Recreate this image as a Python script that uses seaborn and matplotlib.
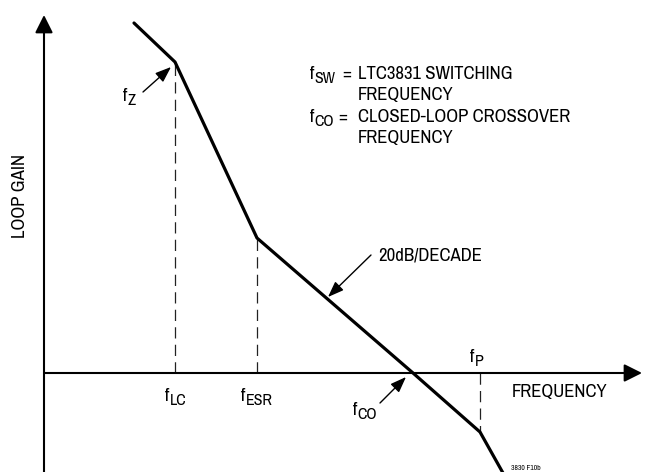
import matplotlib.pyplot as plt
import seaborn as sns

# breakpoints of the asymptotic loop gain curve (arbitrary log-freq / dB units)
freq = [90, 131, 213, 369, 436, 459]
gain = [350, 311, 135, 0, -59, -100]

# dashed marker lines: frequency, top gain
marker_freq = [131, 213, 436]
marker_top = [311, 135, -59]

sns.set_theme(style="white")
plt.rcParams["font.family"] = ["Archivo Narrow", "DejaVu Sans"]
plt.rcParams["text.color"] = "black"

fig = plt.figure(figsize=(6.49, 4.72), dpi=100)
ax = fig.add_axes([0, 0, 1, 1])
ax.set_xlim(-44, 605)
ax.set_ylim(-99, 373)
ax.axis("off")

fs = 13.5
sub_fs = 11.5
head = dict(arrowstyle="-|>,head_length=0.9,head_width=0.45", color="black", lw=1.5, shrinkA=0, shrinkB=0)

# axes with arrow heads
ax.annotate("", xy=(0, 358), xytext=(0, -110), arrowprops=head)
ax.annotate("", xy=(598, 0), xytext=(0, 0), arrowprops=head)

# dashed guides
for f, top in zip(marker_freq, marker_top):
    ax.plot([f, f], [0, top], color="#222222", lw=0.9, dashes=(9, 5))

sns.lineplot(x=freq, y=gain, color="black", lw=2.3, ax=ax, sort=False)


def flabel(x, y, sub):
    # "f" followed by a subscript, left aligned at x, baseline at y
    t = ax.text(x, y, "f", ha="left", va="baseline", fontsize=fs)
    ax.annotate(sub, xy=(1, 0), xycoords=t, xytext=(0.3, -3), textcoords="offset points",
                ha="left", va="bottom", fontsize=sub_fs)


flabel(121, -28, "LC")
flabel(197, -28, "ESR")
flabel(426, 11, "P")
flabel(79, 272, "Z")
flabel(309, -42, "CO")

ax.text(468, -24, "FREQUENCY", ha="left", va="baseline", fontsize=fs)
ax.text(-24, 177, "LOOP GAIN", rotation=90, ha="center", va="center", fontsize=fs)
ax.text(467, -97, "3830 F10b", ha="left", va="baseline", fontsize=5.5)

small = dict(arrowstyle="-|>,head_length=0.8,head_width=0.3", color="black", lw=1.0, shrinkA=0, shrinkB=0)
ax.annotate("", xy=(127, 306), xytext=(99, 281), arrowprops=small)
ax.annotate("", xy=(362, -4), xytext=(336, -30), arrowprops=small)
ax.text(334, 113, "20dB/DECADE", ha="left", va="baseline", fontsize=fs)
ax.annotate("", xy=(284, 76), xytext=(327, 118), arrowprops=small)

# definitions block
flabel(266, 294, "SW")
ax.text(298, 294, "=", ha="left", va="baseline", fontsize=fs)
ax.text(314, 294, "LTC3831 SWITCHING", ha="left", va="baseline", fontsize=fs)
ax.text(314, 273, "FREQUENCY", ha="left", va="baseline", fontsize=fs)
flabel(266, 251, "CO")
ax.text(294, 251, "=", ha="left", va="baseline", fontsize=fs)
ax.text(314, 251, "CLOSED-LOOP CROSSOVER", ha="left", va="baseline", fontsize=fs)
ax.text(314, 230, "FREQUENCY", ha="left", va="baseline", fontsize=fs)

fig.savefig("out.png", dpi=100)
